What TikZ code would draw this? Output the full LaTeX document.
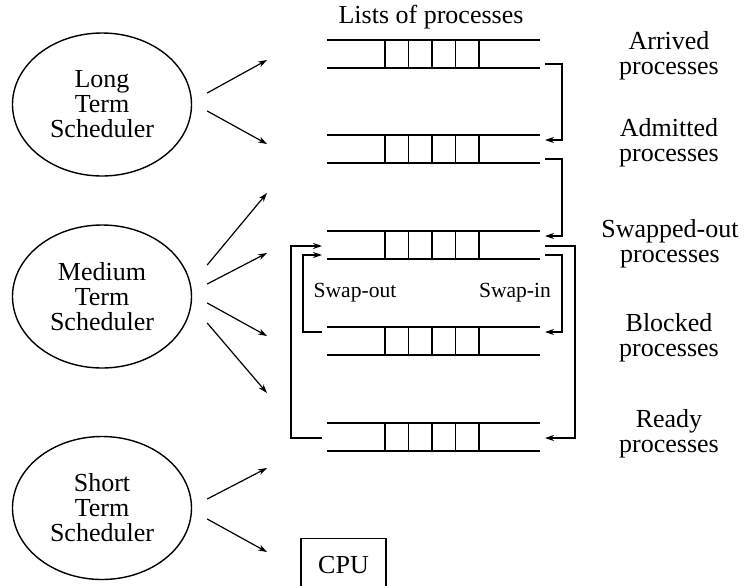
\documentclass[tikz,border=0pt]{standalone}
\usepackage{fontspec}
\setmainfont{Liberation Serif}
\usetikzlibrary{arrows.meta,shapes.geometric}

\tikzset{
  sched/.style={draw, ellipse, line width=0.7pt, minimum width=89.5pt, minimum height=71.5pt,
    inner sep=0pt, align=center, font=\fontsize{13}{12.5}\selectfont},
  plist/.style={align=center, font=\fontsize{13}{12.5}\selectfont},
  swaptxt/.style={font=\fontsize{10.8}{12}\selectfont},
  pipe/.style={line width=0.7pt},
  flow/.style={line width=0.6pt, -{Stealth[length=4.5pt,width=3pt]}},
}

\begin{document}
\begin{tikzpicture}[x=0.5pt,y=-0.5pt]
  \useasboundingbox (0,0) rectangle (746,585);
  \clip (0,0) rectangle (746,585);

  \node[plist] (title) at (431,17) {Lists of processes};

  \foreach \n/\y in {arr/40,adm/135,swp/231,blk/327,rdy/423}{
    \draw[pipe] (327,\y) -- (540,\y) (327,\y+28) -- (540,\y+28);
    \foreach \c in {385,408.5,432,455.5,479}
      \draw[pipe] (\c,\y) -- (\c,\y+28);
    \coordinate (\n-ea) at (545,\y+5);
    \coordinate (\n-eb) at (545,\y+15);
    \coordinate (\n-ec) at (545,\y+24);
    \coordinate (\n-wa) at (322,\y+5);
    \coordinate (\n-wb) at (322,\y+15);
    \coordinate (\n-wc) at (322,\y+24);
  }

  \node[plist] (arr-txt) at (669,56) {Arrived\\processes};
  \node[plist] (adm-txt) at (669,143) {Admitted\\processes};
  \node[plist] (swp-txt) at (670,244) {Swapped-out\\processes};
  \node[plist] (blk-txt) at (669,338) {Blocked\\processes};
  \node[plist] (rdy-txt) at (669,434) {Ready\\processes};

  \node[swaptxt] (swapout) at (355,293) {Swap-out};
  \node[swaptxt] (swapin) at (515,293) {Swap-in};

  \draw[flow] (arr-ec) -- ++(17,0) |- (adm-ea);
  \draw[flow] (adm-ec) -- ++(17,0) |- (swp-ea);
  \draw[flow] (swp-ec) -- ++(17,0) |- (blk-ea);
  \draw[flow] (swp-eb) -- ++(30,0) |- (rdy-eb);
  \draw[flow] (blk-wa) -- ++(-19,0) |- (swp-wc);
  \draw[flow] (rdy-wb) -- ++(-31,0) |- (swp-wb);

  \node[sched] (lts) at (102,104.5) {Long\\Term\\Scheduler};
  \node[sched] (mts) at (102,296.5) {Medium\\Term\\Scheduler};
  \node[sched] (sts) at (102,508) {Short\\Term\\Scheduler};

  \node[draw, pipe, anchor=north, minimum width=42.5pt, text height=9.3pt, text depth=5.9pt,
    inner ysep=7.9pt, font=\fontsize{13}{14}\selectfont] (cpu) at (343.5,538) {CPU};

  \coordinate (lts-a) at (267,60);
  \coordinate (lts-b) at (267,144);
  \coordinate (mts-a) at (267,193);
  \coordinate (mts-b) at (267,253);
  \coordinate (mts-c) at (267,336);
  \coordinate (mts-d) at (267,393);
  \coordinate (sts-a) at (267,468);
  \coordinate (sts-b) at (267,552);

  \draw[flow] ([shift={(15,-11.5)}]lts.east) -- (lts-a);
  \draw[flow] ([shift={(15,6.5)}]lts.east) -- (lts-b);
  \draw[flow] ([shift={(15,-31.5)}]mts.east) -- (mts-a);
  \draw[flow] ([shift={(15,-12.5)}]mts.east) -- (mts-b);
  \draw[flow] ([shift={(15,6.5)}]mts.east) -- (mts-c);
  \draw[flow] ([shift={(15,26.5)}]mts.east) -- (mts-d);
  \draw[flow] ([shift={(15,-9)}]sts.east) -- (sts-a);
  \draw[flow] ([shift={(15,11)}]sts.east) -- (sts-b);
\end{tikzpicture}
\end{document}
